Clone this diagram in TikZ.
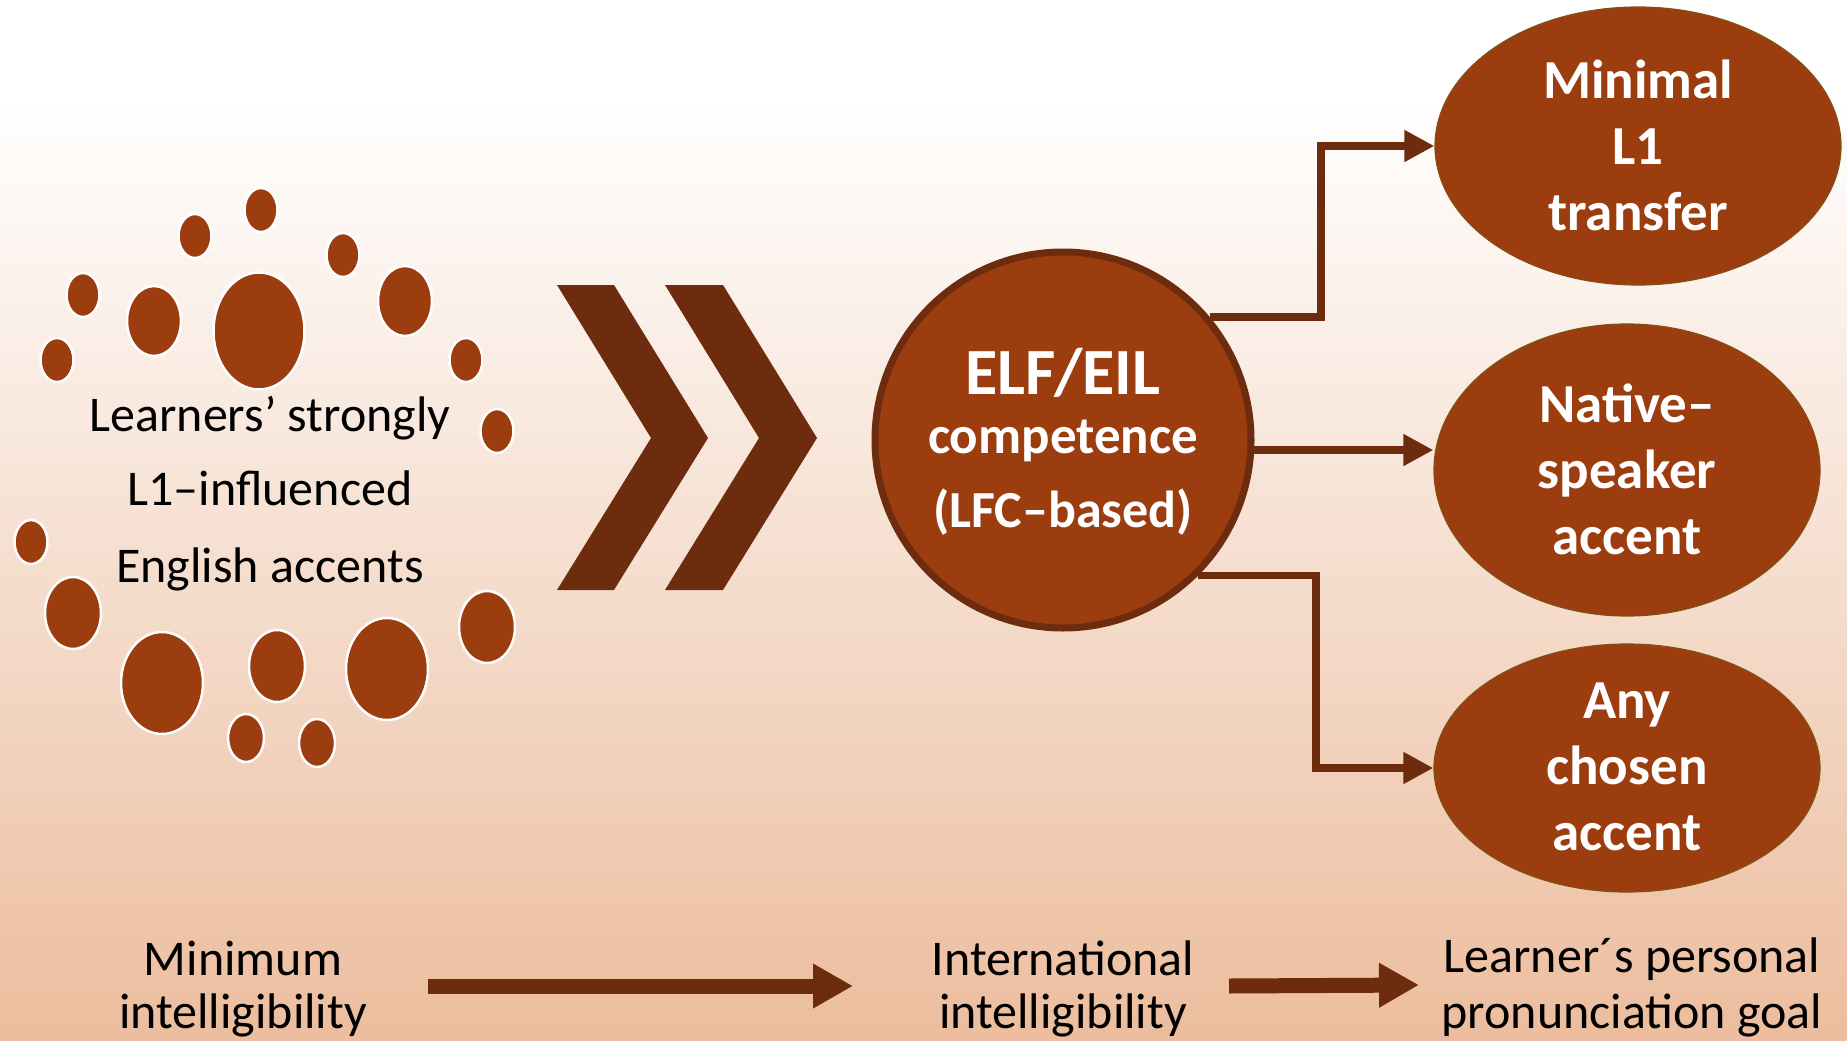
\documentclass[tikz,border=0pt]{standalone}
\usepackage{fontspec}
\setmainfont{Carlito}
\usetikzlibrary{shapes.geometric,arrows.meta,calc}
\definecolor{brownfill}{RGB}{156,61,16}
\definecolor{darkbrown}{RGB}{110,44,14}
\definecolor{ellborder}{RGB}{128,80,20}
\definecolor{peach}{RGB}{236,189,158}
\tikzset{
  bubble/.style={fill=brownfill,draw=white,line width=2.5pt},
  goal/.style={ellipse,fill=brownfill,draw=ellborder,line width=1.2pt,inner sep=0pt},
  wtxt/.style={text=white,font=\fontsize{55}{66}\selectfont\bfseries,anchor=base,inner sep=0pt},
  ltxt/.style={text=black,font=\fontsize{50}{60}\selectfont,anchor=base,inner sep=0pt},
  btxt/.style={text=black,font=\fontsize{50}{60}\selectfont,anchor=base,inner sep=0pt},
  conn/.style={draw=darkbrown,line width=7.5pt,line join=miter,-{Triangle[length=30pt,width=30pt]}},
  bigarrow/.style={draw=darkbrown,line width=15pt,-{Triangle[length=40pt,width=42pt]}},
  chev/.style={fill=darkbrown}
}
\begin{document}
\begin{tikzpicture}[x=1pt,y=-1pt]
\useasboundingbox (0,0) rectangle (1847,1041);
% background
\fill[white] (0,0) rectangle (1847,100);
\shade[top color=white,bottom color=peach] (0,100) rectangle (1847,1041);

% bubbles
\foreach \x/\y/\rx/\ry in {
  261/210/16.5/22, 195/236/16.5/22, 343/255/16.5/22, 83/295/16.5/22,
  154/321/27/35, 259/331/45.5/58.5, 405/301/27/35, 57/360/16.5/22,
  466/360/16.5/22, 497/431/16.5/22, 31/542/16.5/22, 73/613/28/36,
  162/683/41/51, 277/666/28/36, 387/669/41/51, 487/627/28/36,
  246/738/18/24, 317/743/18/24}
  \filldraw[bubble] (\x,\y) ellipse [x radius=\rx, y radius=\ry];

% left text
\node[ltxt] (l1) at (270,431) {Learners’ strongly};
\node[ltxt] (l2) at (270,505) {L1–influenced};
\node[ltxt] (l3) at (270,582) {English accents};

% chevrons
\fill[chev] (557,285) -- (614,285) -- (708,438) -- (614,590) -- (557,590) -- (651,438) -- cycle;
\fill[chev] (665,285) -- (723,285) -- (817,438) -- (723,590) -- (665,590) -- (759,438) -- cycle;

% central circle
\node[circle,fill=brownfill,draw=darkbrown,line width=7pt,minimum size=376pt,inner sep=0pt] (c) at (1063,440) {};
\node[wtxt,font=\fontsize{66}{70}\selectfont\bfseries] (t1) at (1063,394) {ELF/EIL};
\node[wtxt,font=\fontsize{53}{60}\selectfont\bfseries] (t2) at (1063,453) {competence};
\node[wtxt,font=\fontsize{52}{60}\selectfont\bfseries] (t3) at (1063,527) {(LFC–based)};

% right ellipses
\node[goal,minimum width=406pt,minimum height=278pt] (e1) at (1638,146) {};
\node[goal,minimum width=386pt,minimum height=292pt] (e2) at (1627,470) {};
\node[goal,minimum width=386pt,minimum height=248pt] (e3) at (1627,768) {};

\node[wtxt] (e1a) at (1638,99) {Minimal};
\node[wtxt] (e1b) at (1638,164) {L1};
\node[wtxt] (e1c) at (1638,230) {transfer};
\node[wtxt] (e2a) at (1627,422) {Native–};
\node[wtxt] (e2b) at (1627,488) {speaker};
\node[wtxt] (e2c) at (1627,554) {accent};
\node[wtxt] (e3a) at (1627,718) {Any};
\node[wtxt] (e3b) at (1627,784) {chosen};
\node[wtxt] (e3c) at (1627,850) {accent};

% connectors
\coordinate (k1) at (1321,0);
\coordinate (k3) at (1316,0);
\draw[conn] (c.40) -- (c.40 -| k1) |- (e1.west);
\draw[conn] (c.-3) -- (c.-3 -| e2.west);
\draw[conn] (c.-45) -- (c.-45 -| k3) |- (e3.west);

% bottom row
\node[btxt] (b1a) at (243,975) {Minimum};
\node[btxt] (b1b) at (243,1028) {intelligibility};
\node[btxt] (b2a) at (1063,975) {International};
\node[btxt] (b2b) at (1063,1028) {intelligibility};
\node[btxt] (b3a) at (1632,972) {Learner´s personal};
\node[btxt] (b3b) at (1632,1028) {pronunciation goal};

\coordinate (a1s) at (428,986);
\coordinate (a1e) at (853,986);
\coordinate (a2s) at (1229,986);
\coordinate (a2e) at (1419,985);
\draw[bigarrow] (a1s) -- (a1e);
\draw[bigarrow] (a2s) -- (a2e);
\end{tikzpicture}
\end{document}
